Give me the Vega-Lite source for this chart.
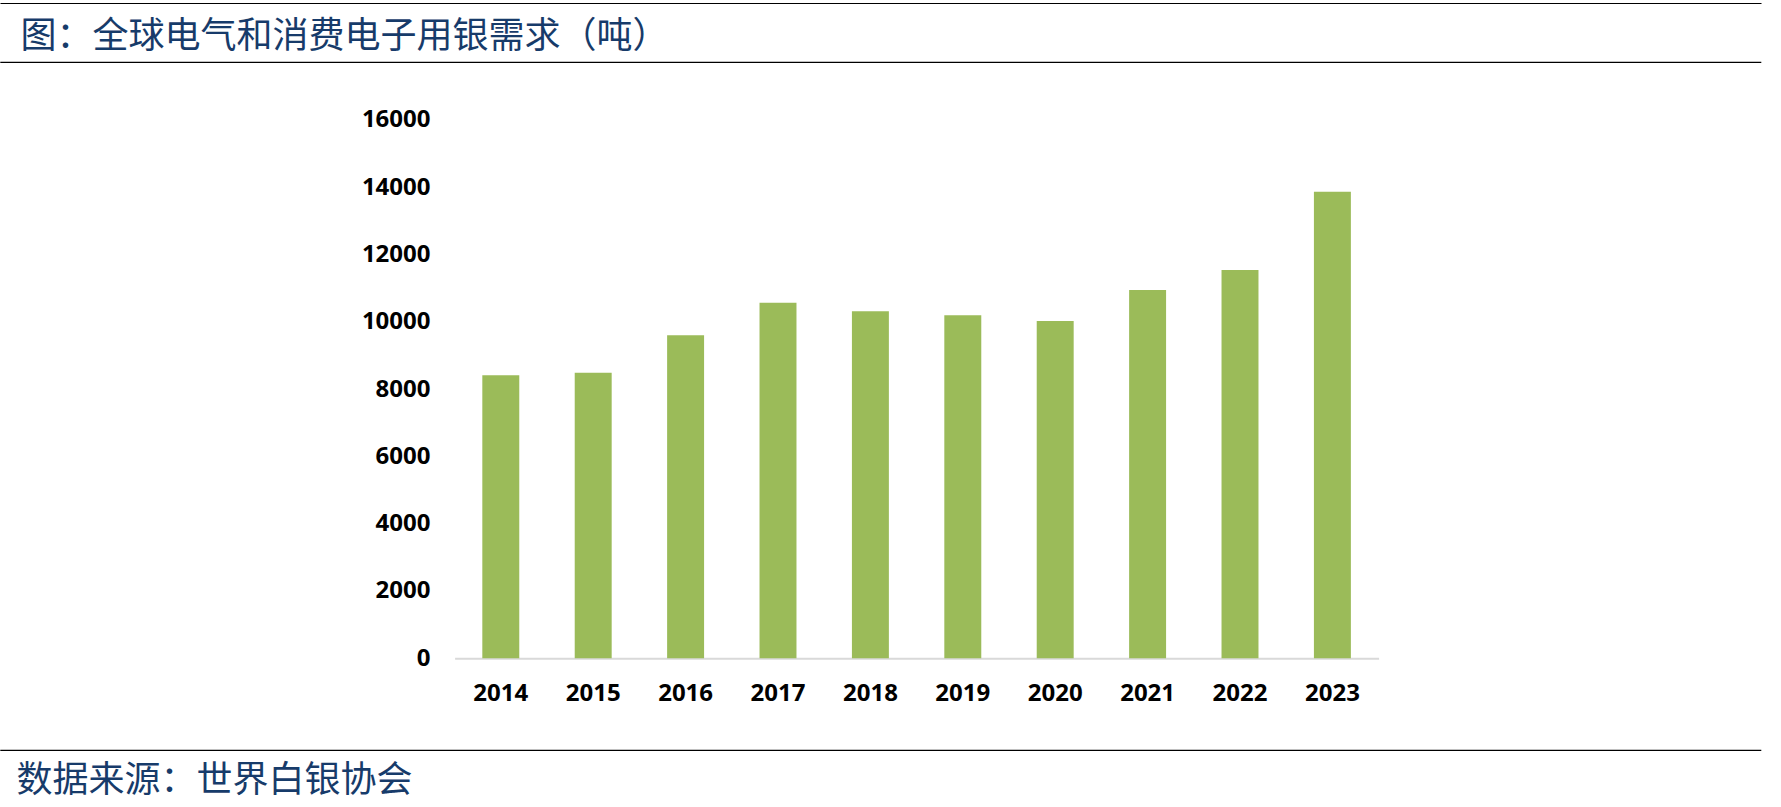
{
  "$schema": "https://vega.github.io/schema/vega-lite/v6.json",
  "width": 1761,
  "height": 688,
  "autosize": {"type": "none"},
  "padding": {"left": 0, "top": 62, "right": 20, "bottom": 57},
  "background": "white",
  "config": {
    "view": {"stroke": "#000000", "strokeWidth": 1.2, "strokeDash": [1761, 688]},
    "font": "Open Sans"
  },
  "data": {
    "values": [
      {"year": "2014", "demand": 8408},
      {"year": "2015", "demand": 8485},
      {"year": "2016", "demand": 9596},
      {"year": "2017", "demand": 10565},
      {"year": "2018", "demand": 10309},
      {"year": "2019", "demand": 10190},
      {"year": "2020", "demand": 10021},
      {"year": "2021", "demand": 10942},
      {"year": "2022", "demand": 11536},
      {"year": "2023", "demand": 13862}
    ]
  },
  "resolve": {"scale": {"x": "independent"}, "axis": {"x": "independent"}},
  "layer": [
    {
      "mark": {"type": "bar", "color": "#9bbb59"},
      "encoding": {
        "x": {
          "field": "year",
          "type": "nominal",
          "sort": null,
          "scale": {"range": [454.6, 1378.6], "paddingInner": 0.6, "paddingOuter": 0.3},
          "axis": {
            "orient": "bottom",
            "offset": -91.7,
            "domain": true,
            "domainColor": "#d9d9d9",
            "domainWidth": 2,
            "ticks": false,
            "labelFont": "Open Sans",
            "labelFontWeight": "bold",
            "labelFontSize": 24,
            "labelColor": "#000000",
            "labelAngle": 0,
            "labelPadding": 35,
            "labelBaseline": "middle",
            "labelOverlap": false,
            "title": "数据来源：世界白银协会",
            "titleFont": "Noto Sans CJK SC",
            "titleFontSize": 36,
            "titleFontWeight": "normal",
            "titleColor": "#173b6a",
            "titleX": 16,
            "titleY": 121.7,
            "titleAlign": "left",
            "titleAnchor": "start",
            "titleBaseline": "middle",
            "titleLimit": 2000
          }
        },
        "y": {
          "field": "demand",
          "type": "quantitative",
          "scale": {"domain": [-2724, 17715], "nice": false},
          "axis": {
            "orient": "left",
            "values": [0, 2000, 4000, 6000, 8000, 10000, 12000, 14000, 16000],
            "format": "d",
            "domain": false,
            "ticks": false,
            "grid": false,
            "labelPadding": -430,
            "labelAlign": "right",
            "labelFont": "Open Sans",
            "labelFontWeight": "bold",
            "labelFontSize": 24,
            "labelColor": "#000000",
            "labelOverlap": false,
            "title": null
          }
        }
      }
    },
    {
      "data": {"values": [{}]},
      "mark": {"type": "rule", "opacity": 0},
      "encoding": {
        "x": {
          "datum": 0,
          "type": "quantitative",
          "scale": {"domain": [0, 1]},
          "axis": {
            "orient": "top",
            "offset": 59,
            "labels": false,
            "ticks": false,
            "grid": false,
            "domain": true,
            "domainColor": "#000000",
            "domainWidth": 1.2,
            "title": "图：全球电气和消费电子用银需求（吨）",
            "titleFont": "Noto Sans CJK SC",
            "titleFontSize": 36,
            "titleFontWeight": "normal",
            "titleColor": "#173b6a",
            "titleX": 20,
            "titleY": 33,
            "titleAlign": "left",
            "titleAnchor": "start",
            "titleBaseline": "middle",
            "titleLimit": 2000
          }
        }
      }
    }
  ]
}
